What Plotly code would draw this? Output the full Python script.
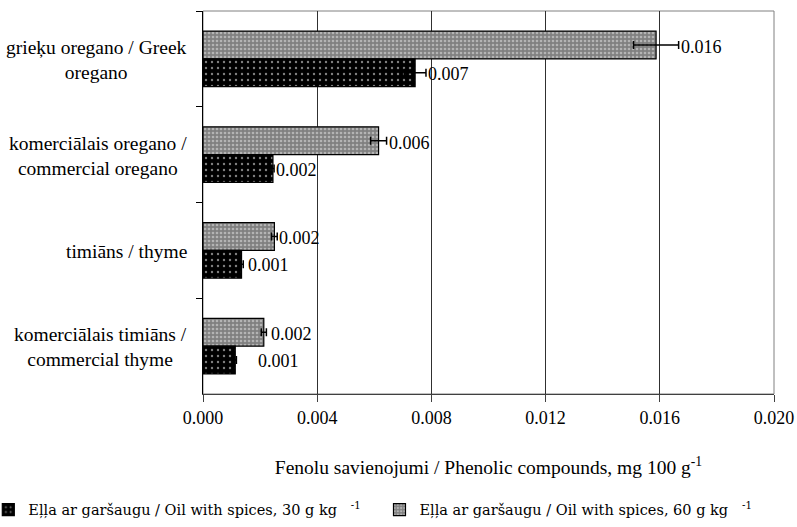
import plotly.graph_objects as go

categories = ["grieķu oregano / Greek<br>oregano",
              "komerciālais oregano /<br>commercial oregano",
              "timiāns / thyme",
              "komerciālais timiāns /<br>commercial thyme"]
cat_keys = ["greek", "comm_oregano", "thyme", "comm_thyme"]

v30 = [0.00743, 0.00245, 0.00135, 0.00113]
e30 = [0.00038, 0.00004, 0.00006, 0.00004]
v60 = [0.01587, 0.00615, 0.00250, 0.00213]
e60 = [0.00079, 0.00028, 0.00010, 0.00009]
labels30 = ["0.007", "0.002", "0.001", "0.001"]
labels60 = ["0.016", "0.006", "0.002", "0.002"]
label_dx30 = [0, 0, 3, 20]
label_dx60 = [0, 0, 0, 3]

name30 = "Eļļa ar garšaugu / Oil with spices, 30 g kg&nbsp;&nbsp;&nbsp;<sup>-1</sup>&nbsp;&nbsp;&nbsp;"
name60 = "Eļļa ar garšaugu / Oil with spices, 60 g kg&nbsp;&nbsp;&nbsp;<sup>-1</sup>"

x_ticks = [0.000, 0.004, 0.008, 0.012, 0.016, 0.020]
x_title = "Fenolu savienojumi / Phenolic compounds, mg 100 g<sup>-1</sup>"

SERIF = "Liberation Serif"
LEG_FONT = "DejaVu Serif"

fig = go.Figure()
fig.add_trace(go.Bar(
    y=cat_keys, x=v60, orientation="h", name=name60,
    marker=dict(color="#808080", line=dict(color="black", width=1.2),
                pattern=dict(shape=".", fgcolor="#e8e8e8", bgcolor="#808080",
                             size=4, solidity=0.35)),
    error_x=dict(type="data", array=e60, color="black", thickness=1.5, width=4),
))
fig.add_trace(go.Bar(
    y=cat_keys, x=v30, orientation="h", name=name30,
    marker=dict(color="black", line=dict(color="black", width=1.2),
                pattern=dict(shape=".", fgcolor="white", bgcolor="black",
                             size=6, solidity=0.12)),
    error_x=dict(type="data", array=e30, color="black", thickness=1.5, width=4),
))

annotations = []
for i, k in enumerate(cat_keys):
    annotations.append(dict(x=v60[i] + e60[i], y=k, xref="x", yref="y",
                            text=labels60[i], showarrow=False, xanchor="left",
                            yanchor="middle", xshift=label_dx60[i], yshift=12,
                            font=dict(family=SERIF, size=18, color="black")))
    annotations.append(dict(x=v30[i] + e30[i], y=k, xref="x", yref="y",
                            text=labels30[i], showarrow=False, xanchor="left",
                            yanchor="middle", xshift=label_dx30[i], yshift=-15,
                            font=dict(family=SERIF, size=18, color="black")))
    annotations.append(dict(x=0, y=k, xref="paper", yref="y", text=categories[i],
                            showarrow=False, xanchor="right", yanchor="middle",
                            align="center", xshift=-14, yshift=-1,
                            font=dict(family=SERIF, size=19.5, color="black")))

fig.update_layout(
    width=797, height=527,
    margin=dict(l=203, r=23, t=11, b=133, autoexpand=False),
    paper_bgcolor="white", plot_bgcolor="white",
    barmode="group", bargap=0.42, bargroupgap=0,
    font=dict(family=SERIF, size=18, color="black"),
    annotations=annotations,
    showlegend=True,
    legend=dict(orientation="h", xref="paper", yref="paper",
                x=-0.376, xanchor="left", y=-0.302, yanchor="middle",
                traceorder="reversed",
                font=dict(family=LEG_FONT, size=14.5, color="black"),
                itemwidth=30, tracegroupgap=0),
    shapes=[dict(type="rect", xref="paper", yref="paper", x0=0, x1=1, y0=0, y1=1,
                 line=dict(color="#808080", width=1), layer="below")],
)
fig.update_xaxes(range=[0, 0.02], tickvals=x_ticks, tickformat=".3f",
                 showgrid=True, gridcolor="#303030", gridwidth=1,
                 showline=True, linecolor="#404040", linewidth=1,
                 ticks="outside", ticklen=7, tickcolor="#404040",
                 ticklabelstandoff=0,
                 tickfont=dict(family=SERIF, size=18), zeroline=False,
                 title=dict(text=x_title, font=dict(family=SERIF, size=19.5), standoff=33))
fig.update_yaxes(range=[3.5, -0.5], showticklabels=False, tickson="boundaries",
                 ticks="outside", ticklen=6, tickcolor="black",
                 showline=True, linecolor="black", linewidth=1.2,
                 showgrid=False, zeroline=False)

fig.write_html("out.html")
